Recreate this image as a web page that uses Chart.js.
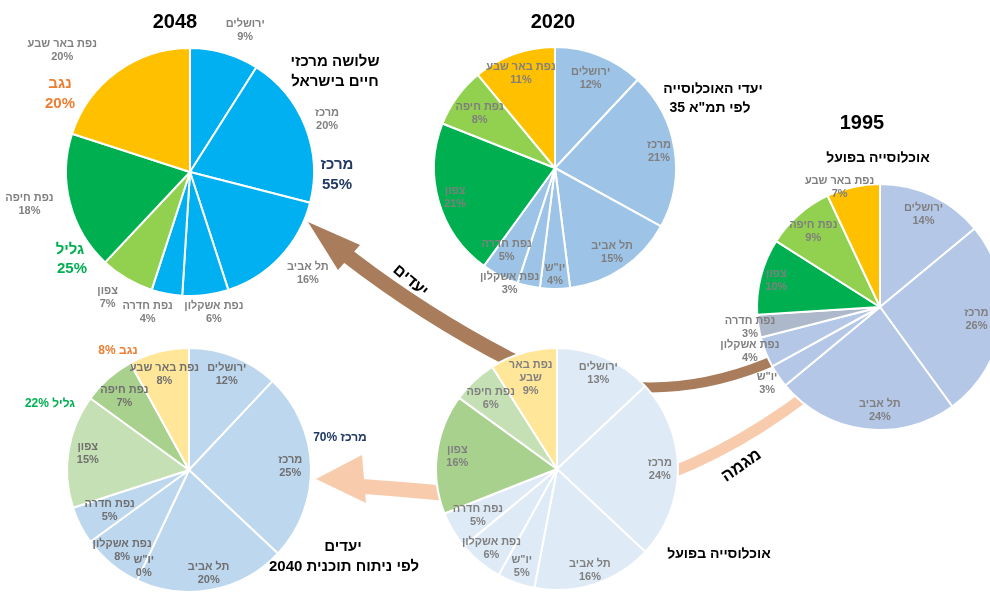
<!DOCTYPE html>
<html lang="he">
<head>
<meta charset="utf-8">
<script src="https://cdn.jsdelivr.net/npm/chart.js@4.4.1/dist/chart.umd.min.js"></script>
<style>
  html, body { margin: 0; padding: 0; background: #fff; }
  #stage { position: relative; width: 990px; height: 592px; overflow: hidden; font-family: "Liberation Sans", Arial, sans-serif; }
  #stage canvas { position: absolute; z-index: 1; }
  #stage svg { position: absolute; left: 0; top: 0; }
  #arrows { z-index: 0; }
  #notes { z-index: 2; pointer-events: none; }
</style>
</head>
<body>
<div id="stage">
  <svg id="arrows" width="990" height="592">
    <!-- goals arrow: actual -> 2048 -->
    <path d="M345 254 Q425 316 515 362" stroke="#a97c5b" stroke-width="15" fill="none"/>
    <polygon points="308,222 338,270 360,245" fill="#a97c5b"/>
    <!-- trend bands: 1995 -> actual -->
    <path d="M635 387 Q707 391 782 357" stroke="#a97c5b" stroke-width="10" fill="none"/>
    <path d="M668 474 Q740 446 808 394" stroke="#f8cbad" stroke-width="11" fill="none"/>
    <!-- goals arrow: actual -> 2040 -->
    <path d="M356 486 Q400 489 452 494" stroke="#f8cbad" stroke-width="15" fill="none"/>
    <polygon points="316,479 362,455 366,503" fill="#f8cbad"/>
  </svg>
  <canvas id="pie2048"></canvas>
  <canvas id="pie2020"></canvas>
  <canvas id="pie1995"></canvas>
  <canvas id="pie2040"></canvas>
  <canvas id="pieActual"></canvas>
  <svg id="notes" width="990" height="592"></svg>
</div>

<script>
// regions, clockwise from 12 o'clock
const regions = ['ירושלים', 'מרכז', 'תל אביב', 'יו"ש', 'נפת אשקלון', 'נפת חדרה', 'צפון', 'נפת חיפה', 'נפת באר שבע'];
const regions2048 = ['ירושלים', 'מרכז', 'תל אביב', 'נפת אשקלון', 'נפת חדרה', 'צפון', 'נפת חיפה', 'נפת באר שבע'];

// population share, %
const share1995 = [14, 26, 24, 3, 4, 3, 10, 9, 7];
const share2020 = [12, 21, 15, 4, 3, 5, 21, 8, 11];
const shareActual = [13, 24, 16, 5, 6, 5, 16, 6, 9];
const share2040 = [12, 25, 20, 0, 8, 5, 15, 7, 8];
const share2048 = [9, 20, 16, 6, 4, 7, 18, 20];

const colors1995 = ['#b4c7e7', '#b4c7e7', '#b4c7e7', '#b4c7e7', '#b4c7e7', '#adb9ca', '#00b050', '#92d050', '#ffc000'];
const colors2020 = ['#9dc3e6', '#9dc3e6', '#9dc3e6', '#9dc3e6', '#9dc3e6', '#9dc3e6', '#00b050', '#92d050', '#ffc000'];
const colorsActual = ['#deebf7', '#deebf7', '#deebf7', '#deebf7', '#deebf7', '#deebf7', '#a9d18e', '#c5e0b4', '#ffe699'];
const colors2040 = ['#bdd7ee', '#bdd7ee', '#bdd7ee', '#bdd7ee', '#bdd7ee', '#bdd7ee', '#c5e0b4', '#a9d18e', '#ffe699'];
const colors2048 = ['#00b0f0', '#00b0f0', '#00b0f0', '#00b0f0', '#00b0f0', '#92d050', '#00b050', '#ffc000'];

const sum = (arr, from, to) => arr.slice(from, to).reduce((a, b) => a + b, 0);

// label text at the slice's mid angle, k * radius out, plus a nudge
const sliceLabels = {
  id: 'sliceLabels',
  afterDatasetsDraw(chart, args, opts) {
    const { ctx } = chart;
    const values = chart.data.datasets[0].data;
    ctx.save();
    ctx.font = opts.font;
    ctx.fillStyle = opts.color;
    ctx.textAlign = 'center';
    ctx.textBaseline = 'middle';
    ctx.direction = 'rtl';
    chart.getDatasetMeta(0).data.forEach((arc, i) => {
      const { x, y, startAngle, endAngle, outerRadius } =
        arc.getProps(['x', 'y', 'startAngle', 'endAngle', 'outerRadius'], true);
      const [k, dx = 0, dy = 0] = opts.place[i];
      const mid = (startAngle + endAngle) / 2;
      const px = x + Math.cos(mid) * outerRadius * k + dx;
      const py = y + Math.sin(mid) * outerRadius * k + dy;
      let name = chart.data.labels[i];
      if (opts.wrap && opts.wrap[i]) {
        const words = name.split(' ');
        name = words.slice(0, opts.wrap[i]).join(' ') + '\n' + words.slice(opts.wrap[i]).join(' ');
      }
      const lines = name.split('\n').concat(values[i] + '%');
      lines.forEach((t, j) => ctx.fillText(t, px, py + (j - (lines.length - 1) / 2) * opts.lineHeight));
    });
    ctx.restore();
  }
};

function drawPie(id, cx, cy, r, labels, values, colors, labelOpts) {
  const pad = 100;
  const canvas = document.getElementById(id);
  canvas.width = 2 * (r + pad);
  canvas.height = 2 * (r + pad);
  canvas.style.left = (cx - r - pad) + 'px';
  canvas.style.top = (cy - r - pad) + 'px';
  return new Chart(canvas, {
    type: 'pie',
    data: {
      labels: labels,
      datasets: [{
        data: values,
        backgroundColor: colors,
        borderColor: '#ffffff',
        borderWidth: 2,
        radius: r
      }]
    },
    options: {
      responsive: false,
      animation: false,
      events: [],
      plugins: {
        legend: { display: false },
        tooltip: { enabled: false },
        sliceLabels: Object.assign({
          font: 'bold 11px "Liberation Sans", Arial, sans-serif',
          color: '#7f7f7f',
          lineHeight: 13
        }, labelOpts)
      }
    },
    plugins: [sliceLabels]
  });
}

drawPie('pie2048', 190, 172, 124, regions2048, share2048, colors2048, {
  color: '#808080',
  place: [[1.22, 13, 4], [1.18, 1, 1], [1.26, 4, -5], [1.15, 6, -1], [1.18, -15, -3],
          [1.21, -6, -4], [1.32, -2, -8], [1.3, -33, 9]]
});

drawPie('pie2020', 555, 168, 121, regions, share2020, colors2020, {
  place: [[0.8], [0.87], [0.84], [0.88], [1.0, -19, -3], [0.79, -5, -3], [0.86], [0.77], [0.83]]
});

drawPie('pie1995', 880, 307, 123, regions, share1995, colors1995, {
  place: [[0.83], [0.79], [0.85, 13, 0], [1.11], [1.12, -2, -6], [1.07], [0.87], [0.82], [1.02, -13, 3]]
});

drawPie('pie2040', 189, 470, 122, regions, share2040, colors2040, {
  color: '#6f6f6f',
  place: [[0.84], [0.83], [0.86], [0.87], [0.86], [0.73], [0.84], [0.8], [0.81]]
});

drawPie('pieActual', 557, 469, 121, regions, shareActual, colorsActual, {
  wrap: { 8: 2 },
  place: [[0.86], [0.85], [0.88], [0.86], [0.85], [0.76], [0.83], [0.8], [0.78]]
});

// titles, district totals and arrow captions
const notes = document.getElementById('notes');
function note(text, x, y, size, color, angle) {
  const t = document.createElementNS('http://www.w3.org/2000/svg', 'text');
  t.setAttribute('x', x);
  t.setAttribute('y', y);
  t.setAttribute('text-anchor', 'middle');
  t.setAttribute('dominant-baseline', 'central');
  t.setAttribute('direction', 'rtl');
  t.setAttribute('font-family', '"Liberation Sans", Arial, sans-serif');
  t.setAttribute('font-weight', 'bold');
  t.setAttribute('font-size', size);
  t.setAttribute('fill', color || '#000');
  if (angle) t.setAttribute('transform', `rotate(${angle} ${x} ${y})`);
  t.textContent = text;
  notes.appendChild(t);
}

const navy = '#203864', orange = '#ed7d31', green = '#00b050';

note('2048', 175, 21, 20);
note('2020', 553, 21, 20);
note('1995', 862, 122, 20);

note('שלושה מרכזי', 335, 60, 15);
note('חיים בישראל', 335, 80, 15);
note('מרכז', 337, 163, 15, navy);
note(sum(share2048, 0, 5) + '%', 337, 183, 15, navy);
note('נגב', 60, 82, 15, orange);
note(share2048[7] + '%', 60, 102, 15, orange);
note('גליל', 70, 248, 15, green);
note(sum(share2048, 5, 7) + '%', 72, 267, 15, green);

note('יעדי האוכלוסייה', 713, 88, 14);
note('לפי תמ"א 35', 710, 107, 14);
note('אוכלוסייה בפועל', 878, 157, 14);

note('נגב ' + share2040[8] + '%', 118, 350, 12, orange);
note('גליל ' + sum(share2040, 6, 8) + '%', 50, 403, 12, green);
note('מרכז ' + sum(share2040, 0, 6) + '%', 340, 437, 12, navy);
note('יעדים', 343, 545, 15);
note('לפי ניתוח תוכנית 2040', 344, 565, 15);

note('אוכלוסייה בפועל', 719, 553, 14);

note('יעדים', 411, 280, 16, '#000', 40);
note('מגמה', 741, 465, 17, '#000', -35);
</script>
</body>
</html>
